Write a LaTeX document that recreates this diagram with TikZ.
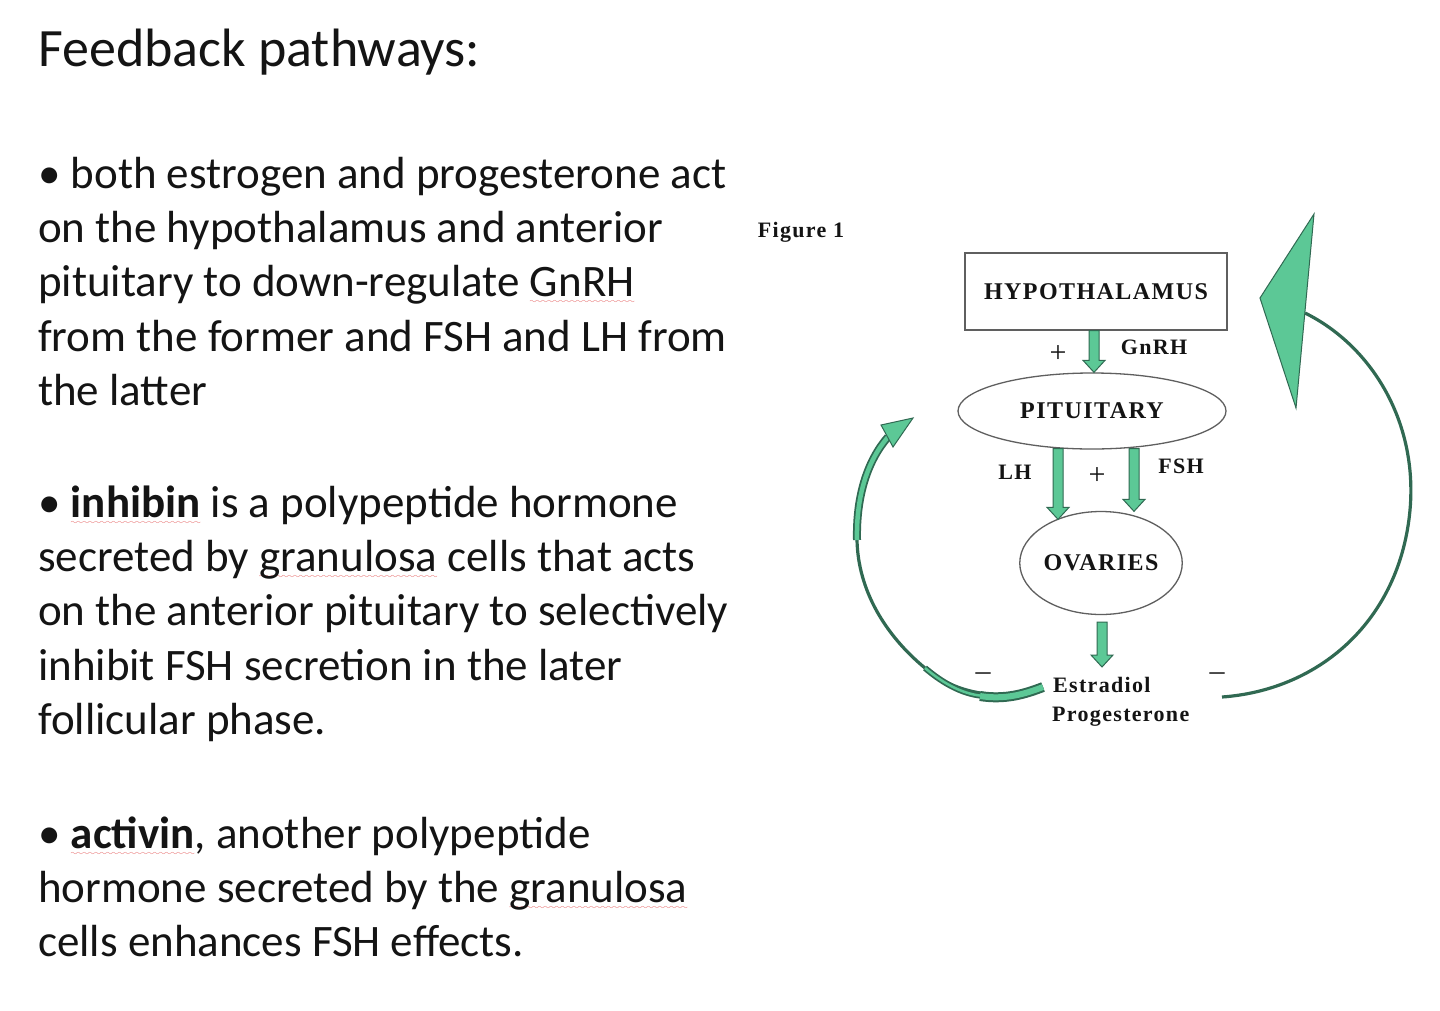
\documentclass[tikz,border=0pt]{standalone}
\usepackage{fontspec}
\setmainfont{Carlito}
\newfontfamily\figfont[LetterSpace=6]{Liberation Serif}
\usetikzlibrary{shapes.geometric}
\usetikzlibrary{calc}

\definecolor{arrowgreen}{RGB}{92,200,150}
\definecolor{arrowdark}{RGB}{48,105,82}
\definecolor{spellred}{RGB}{225,70,70}
\definecolor{outlinegray}{RGB}{95,95,95}
\definecolor{inkblack}{RGB}{20,20,20}

\newcommand{\titlefont}{\fontsize{54}{60}\selectfont}
\newcommand{\bodyfont}{\fontsize{45}{54.4}\selectfont}
\newcommand{\organfont}{\figfont\bfseries\fontsize{24}{28}\selectfont}
\newcommand{\labelfont}{\figfont\bfseries\fontsize{22}{28}\selectfont}

% red spell-check wave under a word
\font\wavefont=lasy8
\newcommand{\spellwave}[1]{\setbox0\hbox{#1}%
  \rlap{\textcolor{spellred}{\lower7pt\hbox to \wd0{\xleaders\hbox{\wavefont\char58}\hfil}}}\box0\relax}

% block arrow pointing down, from #1 to #2
\newcommand{\fatarrow}[2]{%
  \filldraw[fatarrow] let \p1=(#1), \p2=(#2) in
    (\x1-5pt,\y1) -- (\x1-5pt,\y2+12pt) -- (\x1-11pt,\y2+12pt) -- (\x1,\y2)
    -- (\x1+11pt,\y2+12pt) -- (\x1+5pt,\y2+12pt) -- (\x1+5pt,\y1) -- cycle;}

\tikzset{
  organ/.style={draw=outlinegray, line width=1.3pt, inner sep=0pt, font=\organfont, text=inkblack},
  lbl/.style={inner sep=0pt, font=\labelfont, text=inkblack},
  sign/.style={inner sep=0pt, font=\figfont\fontsize{30}{30}\selectfont, text=inkblack},
  fatarrow/.style={fill=arrowgreen, draw=arrowdark, line width=1pt, line join=miter},
  feedline/.style={draw=arrowdark, line width=3.2pt},
  bodyline/.style={anchor=base west, inner sep=0pt, font=\bodyfont, text=inkblack}
}

\begin{document}
\begin{tikzpicture}[x=1pt,y=-1pt]
\useasboundingbox (0,0) rectangle (1440,1010);
\fill[white] (0,0) rectangle (1440,1010);

% Text
\node[anchor=base west, inner sep=0pt, font=\titlefont, text=inkblack] (title) at (38,66) {Feedback pathways:};

\begin{scope}
\clip (0,0) rectangle (734,1010);
\node[bodyline] (p1a) at (38,188.0) {\textbullet\ both estrogen and progesterone act};
\node[bodyline] (p1b) at (38,242.4) {on the hypothalamus and anterior};
\node[bodyline] (p1c) at (38,296.8) {pituitary to down-regulate \spellwave{GnRH}};
\node[bodyline] (p1d) at (38,351.2) {from the former and FSH and LH from};
\node[bodyline] (p1e) at (38,405.6) {the latter};

\node[bodyline] (p2a) at (38,517.0) {\textbullet\ \spellwave{\textbf{inhibin}} is a polypeptide hormone};
\node[bodyline] (p2b) at (38,571.4) {secreted by \spellwave{granulosa} cells that acts};
\node[bodyline] (p2c) at (38,625.8) {on the anterior pituitary to selectively};
\node[bodyline] (p2d) at (38,680.2) {inhibit FSH secretion in the later};
\node[bodyline] (p2e) at (38,734.6) {follicular phase.};

\node[bodyline] (p3a) at (38,848.0) {\textbullet\ \spellwave{\textbf{activin}}, another polypeptide};
\node[bodyline] (p3b) at (38,902.4) {hormone secreted by the \spellwave{granulosa}};
\node[bodyline] (p3c) at (38,956.8) {cells enhances FSH effects.};
\end{scope}

% Figure
\node[lbl, font=\figfont\bfseries\fontsize{22}{24}\selectfont] (fig) at (801,232) {Figure 1};

\node[organ, rectangle, minimum width=262, minimum height=77] (hyp) at (1096,291.5) {HYPOTHALAMUS};
\node[organ, ellipse, minimum width=268, minimum height=76] (pit) at (1092,411) {PITUITARY};
\node[organ, ellipse, minimum width=123, minimum height=103] (ova) at (1101,563) {OVARIES};

\node[lbl, anchor=base west] (est) at (1053,692) {Estradiol};
\node[lbl, anchor=base west] (prog) at (1052,721) {Progesterone};

% block arrows
\coordinate (gnrh top) at ($(hyp.south)+(-2,0)$);
\coordinate (lh top) at ($(pit.south)+(-34,-1)$);
\coordinate (lh tip) at ($(ova.north)+(-43,8.5)$);
\coordinate (fsh top) at ($(pit.south)+(42,-1)$);
\coordinate (fsh tip) at ($(ova.north)+(33,0.5)$);
\coordinate (ova out) at ($(ova.south)+(1,7)$);
\coordinate (est tip) at (1102,667);
\fatarrow{gnrh top}{pit.north}
\fatarrow{lh top}{lh tip}
\fatarrow{fsh top}{fsh tip}
\fatarrow{ova out}{est tip}

\node[lbl] (gnrh) at (1154,347) {GnRH};
\node[sign] (plus1) at (1058,354) {+};
\node[lbl] (lh) at (1015,472) {LH};
\node[sign] (plus2) at (1097,476) {+};
\node[lbl] (fsh) at (1181,466) {FSH};
\node[sign] (minus1) at (983,677) {\textendash};
\node[sign] (minus2) at (1217,677) {\textendash};

% feedback to pituitary
\coordinate (l0) at (1043,687);
\coordinate (l1) at (925,668);
\coordinate (l2) at (857,540);
\coordinate (l3) at (888,437);
\draw[feedline] (l0) .. controls (1010,700) and (960,698) .. (l1)
  .. controls (885,635) and (858,590) .. (l2)
  .. controls (856,495) and (868,460) .. (l3);
\draw[draw=arrowdark, line width=6pt] (985,696) .. controls (965,695) and (945,685) .. (925,668);
\draw[draw=arrowgreen, line width=2.5pt] (985,696) .. controls (965,695) and (945,685) .. (925,668);
\draw[draw=arrowdark, line width=10pt] (l0) .. controls (1025,694) and (1005,700) .. (980,696);
\draw[draw=arrowgreen, line width=6pt] (l0) .. controls (1025,694) and (1005,700) .. (980,696);
\draw[draw=arrowdark, line width=8pt] (l2) .. controls (856,495) and (868,460) .. (l3);
\draw[draw=arrowgreen, line width=4.5pt] (l2) .. controls (856,495) and (868,460) .. (l3);
\filldraw[fatarrow] (913,418) -- (881,425) -- (893,447) -- cycle;

% feedback to hypothalamus
\coordinate (r0) at (1222,697);
\coordinate (r1) at (1410,510);
\coordinate (r2) at (1305,313);
\draw[feedline] (r0) .. controls (1320,690) and (1400,620) .. (r1)
  .. controls (1418,420) and (1370,345) .. (r2);
\filldraw[fatarrow] (1314,214) -- (1260,298) -- (1296,408) -- cycle;

\end{tikzpicture}
\end{document}
